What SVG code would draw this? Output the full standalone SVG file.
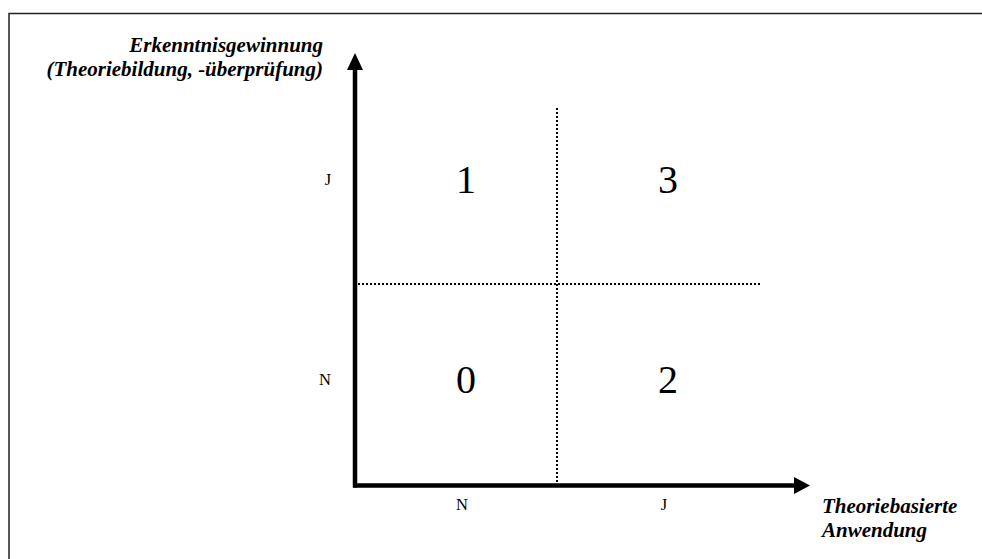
<svg xmlns="http://www.w3.org/2000/svg" width="982" height="559" viewBox="0 0 982 559">
<defs>
<style>
.axis{stroke:#000;stroke-width:4.5;fill:none}
.dot{stroke:#000;stroke-width:2;stroke-dasharray:2 2;fill:none}
.title{font-family:"Liberation Serif",serif;font-weight:bold;font-style:italic;font-size:21px;fill:#000}
.num{font-family:"Liberation Serif",serif;font-size:40px;fill:#000;text-anchor:middle}
.lab{font-family:"Liberation Serif",serif;font-size:16.5px;fill:#000;text-anchor:middle}
</style>
</defs>
<rect x="9" y="13.5" width="990" height="560" fill="#fff" stroke="#222" stroke-width="1.5"/>
<g id="connectors">
<line class="axis" x1="355" y1="68" x2="355" y2="487.5"/>
<polygon points="355,53 347,70 363,70" fill="#000"/>
<line class="axis" x1="353" y1="485.5" x2="796" y2="485.5"/>
<polygon points="810,485.5 794,477 794,494" fill="#000"/>
<line class="dot" x1="557" y1="108" x2="557" y2="484"/>
<line class="dot" x1="358" y1="284" x2="760" y2="284"/>
</g>
<g id="y-axis-label">
<text class="title" x="323" y="52" text-anchor="end">Erkenntnisgewinnung</text>
<text class="title" x="323" y="76" text-anchor="end">(Theoriebildung, -überprüfung)</text>
</g>
<g id="x-axis-label">
<text class="title" x="822" y="513">Theoriebasierte</text>
<text class="title" x="822" y="537">Anwendung</text>
</g>
<g id="q1"><text class="num" x="466" y="193">1</text></g>
<g id="q3"><text class="num" x="668" y="193">3</text></g>
<g id="q0"><text class="num" x="466" y="393">0</text></g>
<g id="q2"><text class="num" x="668" y="393">2</text></g>
<g id="ticks">
<text class="lab" x="328" y="185">J</text>
<text class="lab" x="325" y="385">N</text>
<text class="lab" x="462" y="510">N</text>
<text class="lab" x="664" y="510">J</text>
</g>
</svg>
